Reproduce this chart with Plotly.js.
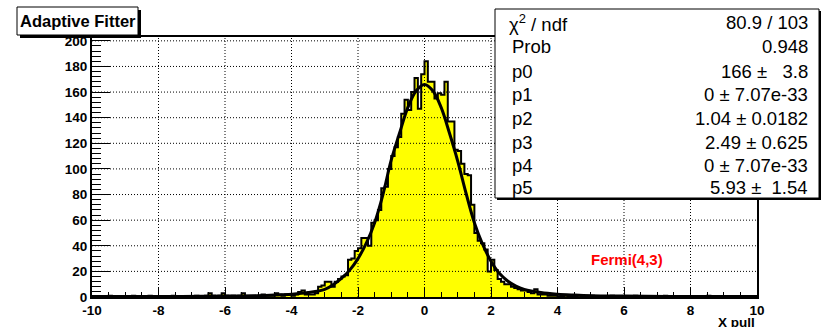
<!DOCTYPE html>
<html><head><meta charset="utf-8">
<script src="https://cdn.plot.ly/plotly-3.0.1.min.js"></script>
<style>html,body{margin:0;padding:0;background:#fff}#chart{width:827px;height:327px}</style>
</head><body><div id="chart"></div>
<script>
// ---- data ----
const binLow = -10, binWidth = 0.1, nBins = 200;
const counts = [
  0,0,0,0,0,1,0,0,0,0, 0,0,1,0,0,0,0,1,0,0,
  0,0,0,0,1,0,0,0,0,0, 0,1,0,0,1,3,1,0,1,3,
  1,0,1,0,1,3,1,1,1,0, 1,2,1,1,1,3,2,1,2,2,
  1,2,4,5,2,2,2,3,8,9, 12,12,8,12,14,16,17,29,30,36,
  38,46,46,40,58,60,68,85,86,100, 110,117,125,143,154,146,160,171,147,174,
  184,168,168,155,159,158,168,137,137,115, 114,104,96,95,72,50,44,42,37,20,
  29,21,14,12,10,10,8,7,6,5, 5,4,3,6,2,2,2,1,1,1,
  0,0,1,0,0,0,1,0,0,1, 1,0,0,0,0,0,1,0,0,0,
  0,0,0,1,0,0,0,0,0,0, 0,0,1,0,0,0,0,0,0,0,
  0,0,0,0,0,1,0,0,0,0, 0,0,0,0,0,0,0,0,0,0
];
const fitX = [-10,-8,-6,-5,-4.5,-4,-3.5,-3,-2.75,-2.5,-2.25,-2,-1.75,-1.5,-1.25,-1,-0.75,-0.5,-0.25,0,
              0.25,0.5,0.75,1,1.25,1.5,1.75,2,2.25,2.5,2.75,3,3.5,4,4.5,5,6,8,10];
const fitY = [0.3,0.4,0.7,1.0,1.5,2.2,3.5,6,9.5,14.5,21,30,42,58,80,107,128,148,161,166,
              161,148,128,106,81,58,41,28,18.5,12.5,8.5,6,3.5,2.2,1.5,1.0,0.7,0.4,0.3];
const xTicks = [-10,-8,-6,-4,-2,0,2,4,6,8,10];
const yTicks = [0,20,40,60,80,100,120,140,160,180,200];
const statLabels = ['\u03c7<sup>2</sup> / ndf','Prob','p0','p1','p2','p3','p4','p5'];
const statValues = ['80.9 / 103','0.948','166 \u00b1\u00a0\u00a0 3.8','0 \u00b1 7.07e-33','1.04 \u00b1 0.0182',
                    '2.49 \u00b1 0.625','0 \u00b1 7.07e-33','5.93 \u00b1\u00a0 1.54'];
const titleText = 'Adaptive Fitter';
const fitLabel = 'Fermi(4,3)';
const xTitle = 'X pull';

// ---- geometry helpers (pixel -> paper) ----
const W = 827, H = 327, L = 92, R = 70, T = 37, B = 30;
const pw = W - L - R, ph = H - T - B;
const px = v => (v - L) / pw;
const py = v => (H - B - v) / ph;

// step outline edges
const edges = [], stepY = [];
for (let i = 0; i <= nBins; i++) {
  edges.push(Math.round((binLow + i * binWidth) * 10) / 10);
  stepY.push(counts[Math.min(i, nBins - 1)]);
}

const traces = [
  {x: edges, y: stepY, type: 'scatter', mode: 'lines', line: {shape: 'hv', color: '#000', width: 2},
   fill: 'tozeroy', fillcolor: '#ffff00', hoverinfo: 'skip'},
  {x: fitX, y: fitY, type: 'scatter', mode: 'lines', line: {shape: 'spline', smoothing: 1, color: '#000', width: 3},
   hoverinfo: 'skip'}
];

const shapes = [];
xTicks.slice(1, -1).forEach(g => shapes.push({type: 'line', xref: 'x', yref: 'paper', x0: g, x1: g, y0: 0, y1: 1,
  line: {color: '#000', width: 1, dash: '1px,2px'}, layer: 'above'}));
yTicks.slice(1).forEach(g => shapes.push({type: 'line', xref: 'paper', yref: 'y', x0: 0, x1: 1, y0: g, y1: g,
  line: {color: '#000', width: 1, dash: '1px,2px'}, layer: 'above'}));
// title box + shadow
shapes.push({type: 'rect', xref: 'paper', yref: 'paper', x0: px(20), x1: px(141), y0: py(38), y1: py(10),
  fillcolor: '#000', line: {width: 0}, layer: 'above'});
shapes.push({type: 'rect', xref: 'paper', yref: 'paper', x0: px(17), x1: px(138), y0: py(35), y1: py(7),
  fillcolor: '#fff', line: {color: '#000', width: 1}, layer: 'above'});
// stats box + shadow
shapes.push({type: 'rect', xref: 'paper', yref: 'paper', x0: px(497), x1: px(821), y0: py(200), y1: py(11),
  fillcolor: '#000', line: {width: 0}, layer: 'above'});
shapes.push({type: 'rect', xref: 'paper', yref: 'paper', x0: px(495), x1: px(819), y0: py(198), y1: py(9),
  fillcolor: '#fff', line: {color: '#000', width: 1}, layer: 'above'});

const font = 'Liberation Sans, Arial, Helvetica, sans-serif';
const annotations = [];
annotations.push({text: titleText, xref: 'paper', yref: 'paper', x: px(77.5), y: py(21), xanchor: 'center', yanchor: 'middle',
  showarrow: false, font: {family: font, size: 16.5, weight: 'bold', color: '#000'}});
const rowY = [23, 47, 71, 94, 118, 142, 165, 188];
statLabels.forEach((s, i) => annotations.push({text: s, xref: 'paper', yref: 'paper', x: px(i === 0 ? 507 : 510), y: py(rowY[i]),
  xanchor: 'left', yanchor: 'middle', showarrow: false, font: {family: font, size: 18.5, color: '#000'}}));
statValues.forEach((s, i) => annotations.push({text: s, xref: 'paper', yref: 'paper', x: px(810), y: py(rowY[i]),
  xanchor: 'right', yanchor: 'middle', showarrow: false, font: {family: font, size: 18.5, color: '#000'}}));
annotations.push({text: fitLabel, xref: 'paper', yref: 'paper', x: px(627), y: py(259), xanchor: 'center', yanchor: 'middle',
  showarrow: false, font: {family: font, size: 15, weight: 'bold', color: '#ff0000'}});
annotations.push({text: xTitle, xref: 'paper', yref: 'paper', x: px(757), y: py(322.5), xanchor: 'right', yanchor: 'middle',
  showarrow: false, font: {family: font, size: 13.5, weight: 'bold', color: '#000'}});

const tickFont = {family: font, size: 13.5, weight: 'bold', color: '#000'};
const layout = {
  width: W, height: H, margin: {l: L, r: R, t: T, b: B}, showlegend: false,
  paper_bgcolor: '#fff', plot_bgcolor: '#fff',
  xaxis: {range: [-10, 10], tickvals: xTicks, ticktext: xTicks.map(String), ticks: 'inside', ticklen: 10, tickwidth: 1,
    tickcolor: '#000', showline: true, linewidth: 2, linecolor: '#000', mirror: true, showgrid: false, zeroline: false,
    tickfont: tickFont, minor: {dtick: 0.5, tick0: -10, ticks: 'inside', ticklen: 5, tickwidth: 1, tickcolor: '#000', showgrid: false}},
  yaxis: {range: [0, 203], tickvals: yTicks, ticktext: yTicks.map(String), ticks: 'inside', ticklen: 18, tickwidth: 1,
    tickcolor: '#000', showline: true, linewidth: 2, linecolor: '#000', mirror: true, showgrid: false, zeroline: false,
    tickfont: tickFont, minor: {dtick: 4, tick0: 0, ticks: 'inside', ticklen: 9, tickwidth: 1, tickcolor: '#000', showgrid: false}},
  shapes: shapes, annotations: annotations
};
Plotly.newPlot('chart', traces, layout, {staticPlot: true, displayModeBar: false});
</script>
</body></html>
